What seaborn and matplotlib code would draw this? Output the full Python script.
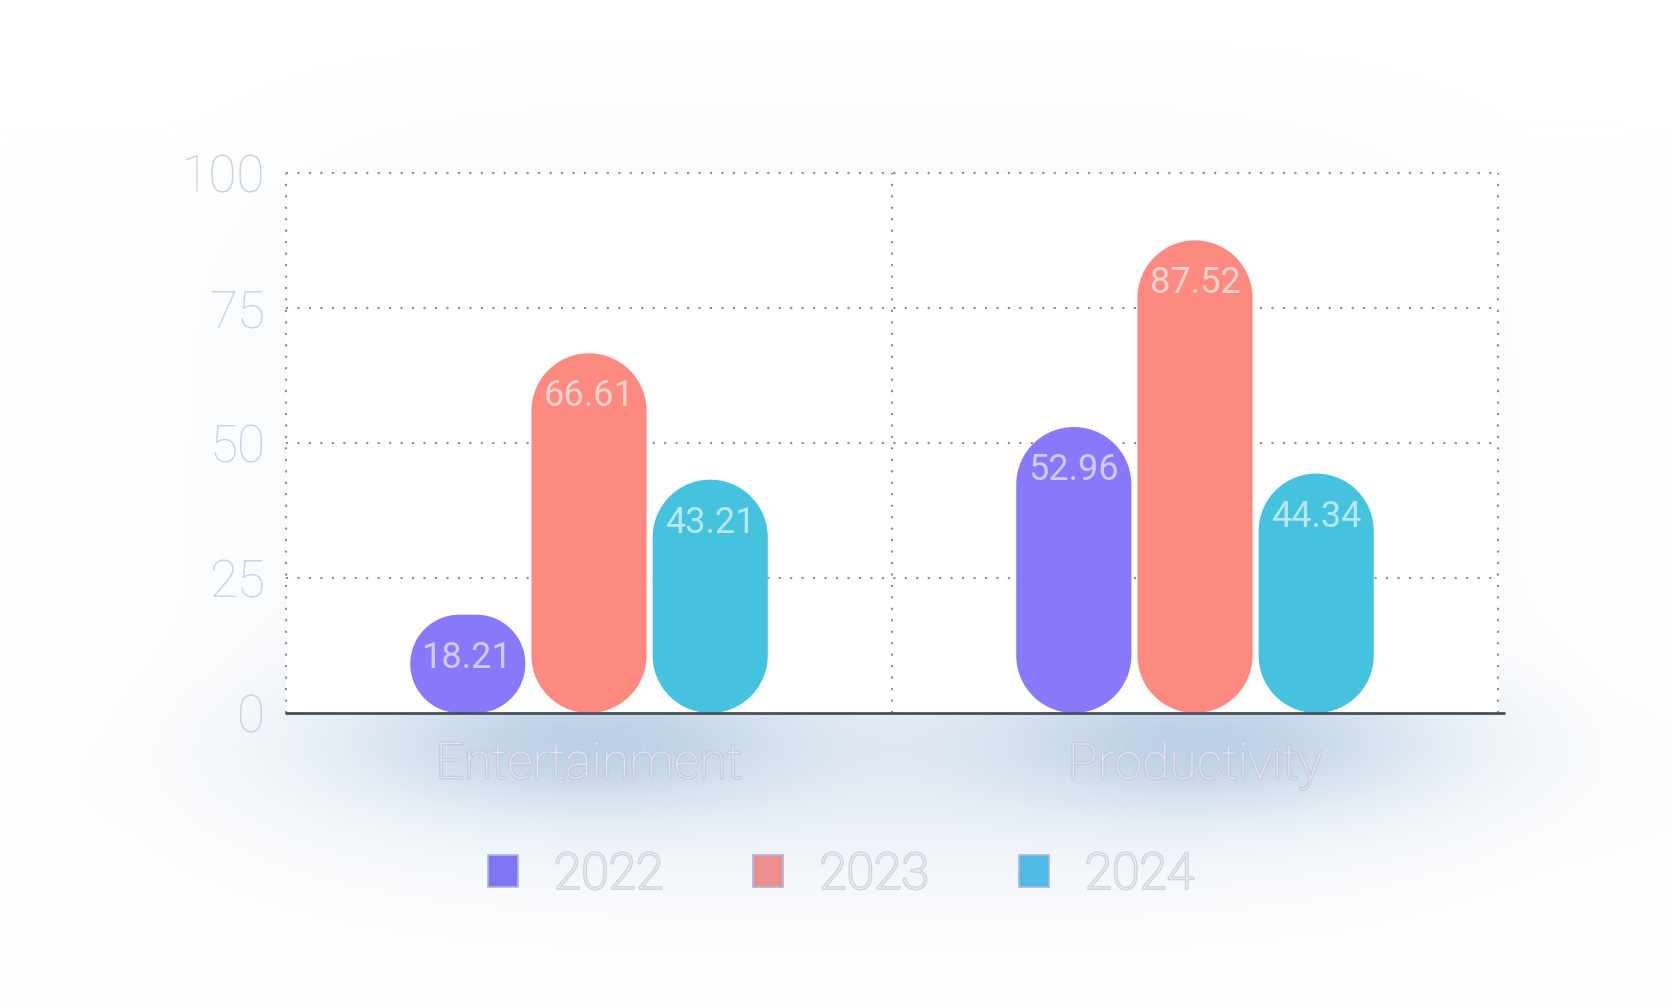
import numpy as np
import pandas as pd
import matplotlib
matplotlib.use("Agg")
import matplotlib.pyplot as plt
import seaborn as sns
from matplotlib.patches import Polygon, Patch
import matplotlib.patheffects as pe

# ---------------- data ----------------
categories = ["Entertainment", "Productivity"]
years = ["2022", "2023", "2024"]
values_2022 = [18.21, 52.96]
values_2023 = [66.61, 87.52]
values_2024 = [43.21, 44.34]
yticks = [0, 25, 50, 75, 100]

bar_colors = ["#8878FA", "#FD8A80", "#45C3DE"]
legend_colors = ["#8075F4", "#EE8D8D", "#50B9E6"]

df = pd.DataFrame({
    "category": categories * 3,
    "year": [y for y in years for _ in categories],
    "value": values_2022 + values_2023 + values_2024,
})

sns.set_theme(style="white")
plt.rcParams['font.family'] = ['Roboto', 'DejaVu Sans']

W_PX, H_PX = 1672, 1008
fig = plt.figure(figsize=(W_PX / 100, H_PX / 100), dpi=100)
fig.patch.set_facecolor('white')

# ---------------- soft background glow ----------------
bg = fig.add_axes([0, 0, 1, 1], zorder=-10)
bg.set_axis_off()
h, w = H_PX // 2, W_PX // 2
yy, xx = np.mgrid[0:h, 0:w]
X = xx * 2.0
Y = yy * 2.0
img = np.ones((h, w, 3))


def blend(col, alpha):
    img[:] = img * (1 - alpha[..., None]) + np.array(col)[None, None, :] * alpha[..., None]


d = (np.abs((X - 853) / 730) ** 4 + np.abs((Y - 512) / 450) ** 4) ** 0.25
blend((0.80, 0.85, 0.92), 0.15 * np.clip((1.05 - d) / 0.40, 0, 1))
blend((0.74, 0.81, 0.90), 0.16 * np.exp(-0.5 * (((X - 893) / 480) ** 2 + ((Y - 790) / 80) ** 2)))
for cx in (589, 1198):
    blend((0.62, 0.74, 0.86), 0.65 * np.exp(-0.5 * (((X - cx) / 160) ** 2 + ((Y - 740) / 48) ** 2)))
bg.imshow(img, extent=[0, 1, 0, 1], aspect='auto', interpolation='bilinear')
bg.set_xlim(0, 1)
bg.set_ylim(0, 1)

# ---------------- main axes ----------------
ax = fig.add_axes([286 / W_PX, 1 - 713 / H_PX, 1212 / W_PX, 540 / H_PX])
ax.set_facecolor('white')
sns.barplot(data=df, x="category", y="value", hue="year", palette=bar_colors,
            width=0.6, gap=0.05, saturation=1, errorbar=None, legend=False, ax=ax)
ax.set_xlim(-0.5, 1.5)
ax.set_ylim(0, 100)

sx = ax.bbox.width / 2.0     # px per x unit
sy = ax.bbox.height / 100.0  # px per y unit

for p in list(ax.patches):
    x0 = p.get_x()
    wd = p.get_width()
    ht = p.get_height()
    col = p.get_facecolor()
    p.set_visible(False)
    r_px = min(wd * sx / 2, ht * sy / 2)
    rx = r_px / sx
    ry = r_px / sy
    x1 = x0 + wd
    pts = []
    for (ccx, ccy, a0) in [(x1 - rx, ht - ry, 0), (x0 + rx, ht - ry, 90),
                           (x0 + rx, ry, 180), (x1 - rx, ry, 270)]:
        t = np.radians(np.linspace(a0, a0 + 90, 30))
        pts.extend(zip(ccx + rx * np.cos(t), ccy + ry * np.sin(t)))
    ax.add_patch(Polygon(pts, closed=True, facecolor=col, edgecolor='none', zorder=3))
    ax.text(x0 + wd / 2, ht - 43 / sy, f"{ht:.2f}", ha='center', va='center',
            fontsize=26, color='white', alpha=0.62, zorder=4)

# grid
grid_kw = dict(color='#8C8C8C', linestyle=(0, (1, 4.5)), linewidth=1.5, zorder=1, clip_on=False)
for yv in yticks[1:]:
    ax.axhline(yv, **grid_kw)
for xv in (-0.5, 0.5, 1.5):
    ax.axvline(xv, **grid_kw)
ax.plot([-0.5, 1.51], [0, 0], color='#4A4F5A', linewidth=2, zorder=5, clip_on=False)

for s in ax.spines.values():
    s.set_visible(False)

ax.set_yticks(yticks)
ax.tick_params(axis='y', length=0, pad=15, labelsize=37, labelcolor='#C3D0E6')
ax.tick_params(axis='x', length=0, pad=20, labelsize=36, labelcolor='#E2E6F0')
for lbl in ax.get_yticklabels():
    lbl.set_fontweight('light')
for lbl in ax.get_xticklabels():
    lbl.set_fontweight('light')
    lbl.set_path_effects([pe.withStroke(linewidth=1.8, foreground='#C3CADC')])
ax.set_xlabel('')
ax.set_ylabel('')

# legend
handles = [Patch(facecolor=c, edgecolor='#A9B8DA', linewidth=1.2) for c in legend_colors]
leg = fig.legend(handles, years, loc='center', bbox_to_anchor=(0.503, 0.132), ncol=3,
                 frameon=False, fontsize=36, handlelength=0.6, handleheight=0.6,
                 handletextpad=0.72, columnspacing=1.8)
for t in leg.get_texts():
    t.set_color('#EDEFF5')
    t.set_fontweight('light')
    t.set_path_effects([pe.withStroke(linewidth=1.8, foreground='#CDD0DE')])

fig.savefig('out.png', dpi=100, facecolor='white')
